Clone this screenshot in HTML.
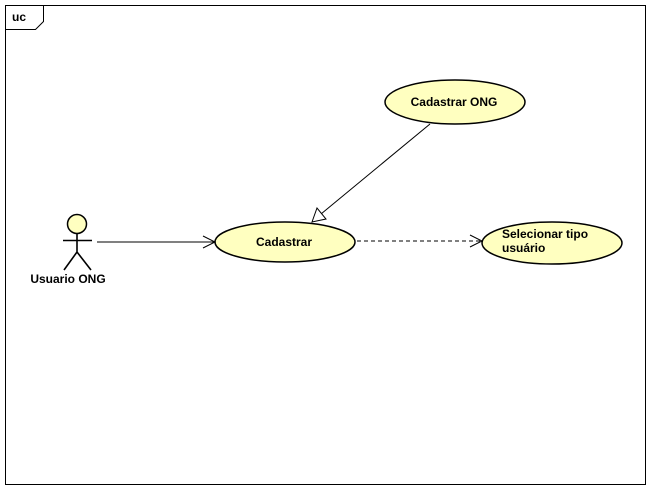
<!DOCTYPE html>
<html><head><style>body{margin:0;background:#fff}svg{display:block}</style></head><body>
<svg width="649" height="487" xmlns="http://www.w3.org/2000/svg" font-family="Liberation Sans, Arial, sans-serif" font-size="12" font-weight="bold">
<rect x="5.5" y="5.5" width="640" height="479" fill="#fff" stroke="#000"/>
<path d="M5.5 29.5 H35.5 L43.5 21.5 V5.5" fill="none" stroke="#000"/>
<text x="12" y="21" font-size="12">uc</text>
<circle cx="77" cy="224" r="9.5" fill="#ffffc0" stroke="#000" stroke-width="1.5"/>
<path d="M77 233.5 V252 M63 240.5 H92 M77 252 L64 270 M77 252 L91 270" stroke="#000" fill="none" stroke-width="1.6"/>
<text x="68" y="283" text-anchor="middle">Usuario ONG</text>
<ellipse cx="285" cy="242" rx="70" ry="20" fill="#ffffc0" stroke="#000" stroke-width="1.5"/>
<text x="284" y="246" text-anchor="middle">Cadastrar</text>
<ellipse cx="455" cy="102" rx="70" ry="22" fill="#ffffc0" stroke="#000" stroke-width="1.5"/>
<text x="454" y="106" text-anchor="middle">Cadastrar ONG</text>
<ellipse cx="552" cy="243" rx="70" ry="21" fill="#ffffc0" stroke="#000" stroke-width="1.5"/>
<text x="502" y="238">Selecionar tipo</text>
<text x="502" y="252">usuário</text>
<path d="M97 242 H215 M203 236 L215 242 L203 248" fill="none" stroke="#000"/>
<path d="M430 124 L321 214" stroke="#000" fill="none"/>
<path d="M312 222 L317 208 L326 219 Z" fill="#fff" stroke="#000"/>
<path d="M357 241 H482" stroke="#000" stroke-dasharray="4,3" fill="none"/>
<path d="M470 235 L482 241 L470 247" stroke="#000" fill="none"/>
</svg>
</body></html>
